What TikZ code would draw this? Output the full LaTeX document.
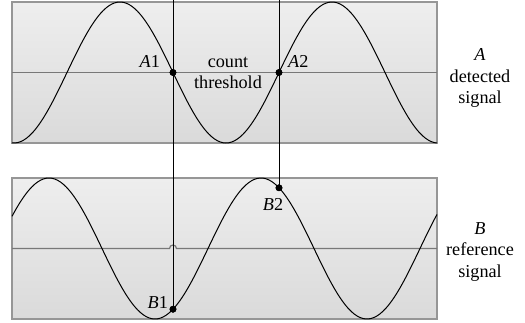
\documentclass[tikz,border=0pt]{standalone}
\usepackage{fontspec}
\setmainfont{Liberation Serif}
\usetikzlibrary{positioning}
\definecolor{framegray}{RGB}{150,150,150}
\definecolor{midgray}{RGB}{120,120,120}
\definecolor{paneltop}{RGB}{238,238,238}
\definecolor{panelbot}{RGB}{218,218,218}

\begin{document}
\begin{tikzpicture}[x=0.5pt,y=-0.5pt,font=\fontsize{9.1}{10.6}\selectfont,
    panel/.style={draw=framegray,line width=0.8pt,top color=paneltop,bottom color=panelbot},
    midline/.style={draw=midgray,line width=0.6pt},
    wave/.style={black,line width=0.5pt},
    probe/.style={black,line width=0.5pt},
    dot/.style={circle,fill=black,inner sep=0pt,minimum size=3.4pt},
    lbl/.style={inner sep=1pt}]
        \useasboundingbox (0,0) rectangle (525,322);
        % Panels with threshold lines
        \foreach \ytop in {2,178}{
          \shade[panel] (12,\ytop) rectangle (437,\ytop+141);
        }
        \draw[midline] (12,72.5) -- (437,72.5);
        \draw[midline] (12,248.5) -- (169.5,248.5)
          arc[start angle=180,end angle=360,radius=3.5] -- (437,248.5);
        % Detected and reference waves
        \draw[wave] plot[domain=12:437,samples=150,smooth] (\x,{72.5-70.5*cos((\x-120)/212*360)});
        \draw[wave] plot[domain=12:437,samples=150,smooth] (\x,{248.5-70.5*cos((\x-49)/212*360)});
        % Sampling points
        \coordinate (A1top) at (173,0);
        \coordinate (A2top) at (279,0);
        \node[dot] (A1) at (173,72.5) {};
        \node[dot] (A2) at (279,72.5) {};
        \node[dot] (B1) at (173,{248.5-70.5*cos((173-49)/212*360)}) {};
        \node[dot] (B2) at (279,{248.5-70.5*cos((279-49)/212*360)}) {};
        \draw[probe] (A1top) -- (B1.center);
        \draw[probe] (A2top) -- (B2.center);
        \node[dot] at (A1) {};
        \node[dot] at (A2) {};
        \node[dot] at (B1) {};
        \node[dot] at (B2) {};
        % Point labels
        \node[lbl,above left=0pt and 4pt of A1] {\textit{A}1};
        \node[lbl,above right=0pt and 2pt of A2] {\textit{A}2};
        \node[lbl,above left=-2pt and 0pt of B1] {\textit{B}1};
        \node[lbl,below=2pt of B2,xshift=-3pt] {\textit{B}2};
        \node[align=center] (thr) at (228,73) {count\\threshold};
        % Signal names
        \node[align=center] (sigA) at (480,78) {\textit{A}\\detected\\signal};
        \node[align=center] (sigB) at (480,252) {\textit{B}\\reference\\signal};
      \end{tikzpicture}
\end{document}
